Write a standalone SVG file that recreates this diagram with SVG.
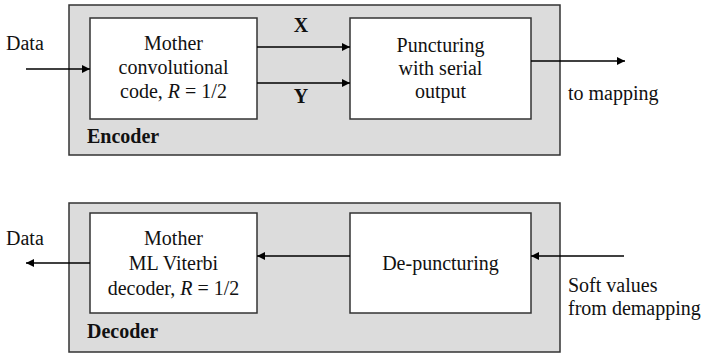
<svg xmlns="http://www.w3.org/2000/svg" width="710" height="354" viewBox="0 0 710 354">
<defs>
<marker id="ah" viewBox="0 0 10 10" refX="10" refY="5" markerWidth="10" markerHeight="8" markerUnits="userSpaceOnUse" orient="auto">
<path d="M0,0 L10,5 L0,10 z" fill="#000"/>
</marker>
<style>
.outer{fill:#dcdcdc;stroke:#333;stroke-width:1.5}
.box{fill:#fff;stroke:#333;stroke-width:1.5}
text{font-family:'Liberation Serif','Times New Roman',serif;font-size:20px;fill:#111}
.c{text-anchor:middle}
.b{font-weight:bold}
.wire{stroke:#000;stroke-width:1.3;fill:none;marker-end:url(#ah)}
</style>
</defs>
<g id="encoder">
<rect class="outer" x="69" y="5" width="491" height="150"/>
<text class="b" x="87" y="143">Encoder</text>
</g>
<g id="mother-conv">
<rect class="box" x="90" y="18" width="167" height="101"/>
<text class="c" x="173.5" y="50">Mother</text>
<text class="c" x="173.5" y="74">convolutional</text>
<text class="c" x="173.5" y="98">code, <tspan font-style="italic">R</tspan> = 1/2</text>
</g>
<g id="puncturing">
<rect class="box" x="350" y="18" width="181" height="101"/>
<text class="c" x="440.5" y="52">Puncturing</text>
<text class="c" x="440.5" y="75">with serial</text>
<text class="c" x="440.5" y="98">output</text>
</g>
<g id="decoder">
<rect class="outer" x="69" y="203" width="491" height="149"/>
<text class="b" x="87" y="338">Decoder</text>
</g>
<g id="mother-viterbi">
<rect class="box" x="90" y="213" width="167" height="100"/>
<text class="c" x="173.5" y="245">Mother</text>
<text class="c" x="173.5" y="270">ML Viterbi</text>
<text class="c" x="173.5" y="295">decoder, <tspan font-style="italic">R</tspan> = 1/2</text>
</g>
<g id="depuncturing">
<rect class="box" x="350" y="213" width="181" height="100"/>
<text class="c" x="440.5" y="270">De-puncturing</text>
</g>
<g id="labels">
<text x="6" y="50">Data</text>
<text class="b c" x="301" y="32">X</text>
<text class="b c" x="301" y="103">Y</text>
<text x="568" y="100">to mapping</text>
<text x="6" y="245">Data</text>
<text x="568" y="292">Soft values</text>
<text x="568" y="315">from demapping</text>
</g>
<g id="connectors">
<line class="wire" x1="26" y1="69" x2="90" y2="69"/>
<line class="wire" x1="257" y1="47" x2="350" y2="47"/>
<line class="wire" x1="257" y1="83" x2="350" y2="83"/>
<line class="wire" x1="531" y1="61" x2="625" y2="61"/>
<line class="wire" x1="624" y1="256" x2="531" y2="256"/>
<line class="wire" x1="350" y1="256" x2="257" y2="256"/>
<line class="wire" x1="90" y1="263" x2="26" y2="263"/>
</g>
</svg>
